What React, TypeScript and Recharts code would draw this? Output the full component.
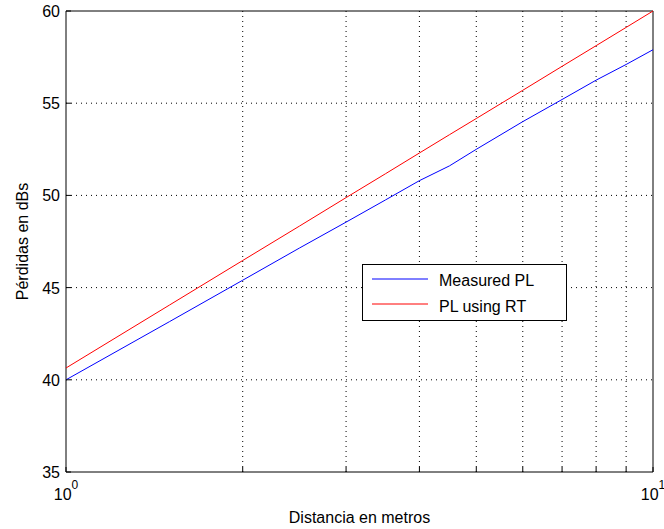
import React from 'react';
import { LineChart, Line, XAxis, YAxis, ReferenceLine, ReferenceArea, Legend, Label } from 'recharts';

const distances = [1, 1.5, 2, 2.5, 3, 3.5, 4, 4.5, 5, 6, 7, 8, 9, 10];
const measuredPL = [40.0, 43.15, 45.4, 47.15, 48.55, 49.75, 50.8, 51.6, 52.5, 54.0, 55.2, 56.25, 57.1, 57.9];
const rtPL = [40.64, 44.05, 46.47, 48.34, 49.88, 51.17, 52.3, 53.29, 54.17, 55.7, 57.0, 58.12, 59.11, 60.0];

const xTicks = [1, 2, 3, 4, 5, 6, 7, 8, 9, 10];
const xMajor = [1, 10];
const xMinor = [2, 3, 4, 5, 6, 7, 8, 9];
const yTicks = [35, 40, 45, 50, 55, 60];
const yGrid = [40, 45, 50, 55];

const seriesNames = ['Measured PL', 'PL using RT'];

const data = distances.map((d, i) => ({ d, measured: measuredPL[i], rt: rtPL[i] }));

const FONT = '"Liberation Sans", Arial, sans-serif';
const FS = 16;

const BottomTick = (props: any) => {
  const { x, y, payload } = props;
  const v = payload.value;
  const isMajor = xMajor.includes(v);
  return (
    <g>
      <line x1={x} y1={y} x2={x} y2={y - 5} stroke="#000" strokeWidth={1} />
      {isMajor && (
        <text x={x} y={y + 28} textAnchor="middle" fontFamily={FONT} fontSize={FS} fill="#000">
          10
          <tspan dy={-11} fontSize={12}>{Math.round(Math.log10(v))}</tspan>
        </text>
      )}
    </g>
  );
};

const TopTick = (props: any) => {
  const { x, y } = props;
  return <line x1={x} y1={y} x2={x} y2={y + 5} stroke="#000" strokeWidth={1} />;
};

const LeftTick = (props: any) => {
  const { x, y, payload } = props;
  return (
    <g>
      <line x1={x} y1={y} x2={x + 5} y2={y} stroke="#000" strokeWidth={1} />
      <text x={x - 6} y={y + 6} textAnchor="end" fontFamily={FONT} fontSize={FS} fill="#000">
        {payload.value}
      </text>
    </g>
  );
};

const RightTick = (props: any) => {
  const { x, y } = props;
  return <line x1={x} y1={y} x2={x - 5} y2={y} stroke="#000" strokeWidth={1} />;
};

const YLabel = (props: any) => {
  const { viewBox } = props;
  const x = viewBox.x + 28;
  const y = viewBox.y + viewBox.height / 2;
  return (
    <text x={x} y={y} transform={`rotate(-90, ${x}, ${y})`} textAnchor="middle" fontFamily={FONT} fontSize={FS} fill="#000">
      Pérdidas en dBs
    </text>
  );
};

const LegendBox = (props: any) => {
  const payload = props.payload || [];
  return (
    <svg width={205} height={57} style={{ display: 'block' }}>
      <rect x={0.5} y={0.5} width={204} height={56} fill="#fff" stroke="#000" strokeWidth={1} />
      {payload.map((p: any, i: number) => (
        <g key={i}>
          <line x1={10} x2={66} y1={15 + i * 25} y2={15 + i * 25} stroke={p.color} strokeWidth={1} />
          <text x={77} y={22 + i * 26} fontFamily={FONT} fontSize={FS} fill="#000">{p.value}</text>
        </g>
      ))}
    </svg>
  );
};

export default function App() {
  return (
    <div style={{ position: 'absolute', left: 0, top: 0, background: '#fff' }}>
      <LineChart width={664} height={529} data={data} margin={{ top: 11, right: 11, left: 0, bottom: 0 }}>
        <XAxis
          dataKey="d"
          type="number"
          scale="log"
          domain={[1, 10]}
          ticks={xTicks}
          interval={0}
          allowDataOverflow
          height={57}
          axisLine={false}
          tickLine={false}
          tickSize={0}
          tickMargin={0}
          tick={<BottomTick />}
        >
          <Label value="Distancia en metros" position="insideBottom" offset={6} style={{ fontFamily: FONT, fontSize: FS, fill: '#000' }} />
        </XAxis>
        <XAxis
          xAxisId="top"
          orientation="top"
          dataKey="d"
          type="number"
          scale="log"
          domain={[1, 10]}
          ticks={xMinor}
          interval={0}
          allowDataOverflow
          height={0}
          axisLine={false}
          tickLine={false}
          tickSize={0}
          tickMargin={0}
          tick={<TopTick />}
        />
        <YAxis
          type="number"
          domain={[35, 60]}
          ticks={yTicks}
          interval={0}
          width={66}
          axisLine={false}
          tickLine={false}
          tickSize={0}
          tickMargin={0}
          tick={<LeftTick />}
        >
          <Label content={<YLabel />} />
        </YAxis>
        <YAxis
          yAxisId="right"
          orientation="right"
          type="number"
          domain={[35, 60]}
          ticks={yTicks}
          interval={0}
          width={0}
          axisLine={false}
          tickLine={false}
          tickSize={0}
          tickMargin={0}
          tick={<RightTick />}
        />
        {xMinor.map((v) => (
          <ReferenceLine key={'vx' + v} x={v} stroke="#000" strokeDasharray="1 4" strokeWidth={1} />
        ))}
        {yGrid.map((v) => (
          <ReferenceLine key={'hy' + v} y={v} stroke="#000" strokeDasharray="1 4" strokeWidth={1} />
        ))}
        <ReferenceArea x1={1} x2={10} y1={35} y2={60} fill="none" fillOpacity={0} stroke="#000" strokeWidth={1} />
        <Line type="linear" dataKey="measured" name={seriesNames[0]} stroke="#0000ff" strokeWidth={1} dot={false} isAnimationActive={false} />
        <Line type="linear" dataKey="rt" name={seriesNames[1]} stroke="#ff0000" strokeWidth={1} dot={false} isAnimationActive={false} />
        <Legend
          layout="vertical"
          align="center"
          verticalAlign="middle"
          content={<LegendBox />}
          wrapperStyle={{ position: 'absolute', left: 362, top: 264, width: 205, height: 57 }}
        />
      </LineChart>
    </div>
  );
}
